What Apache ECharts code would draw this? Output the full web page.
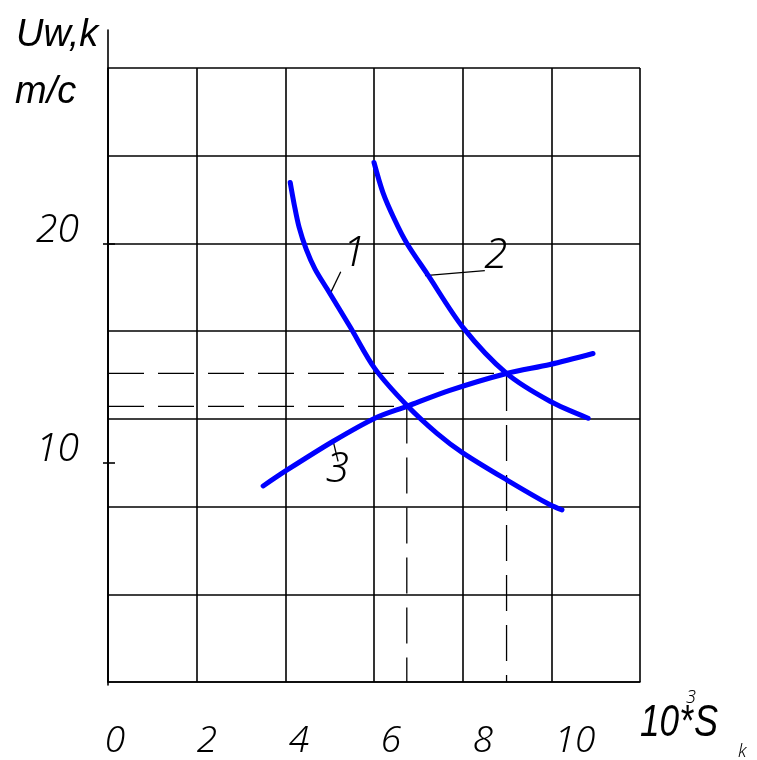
<!DOCTYPE html>
<html><head><meta charset="utf-8">
<script src="https://cdn.jsdelivr.net/npm/echarts@6/dist/echarts.min.js"></script>
<style>html,body{margin:0;padding:0;background:#fff}#c{width:757px;height:760px}</style>
</head><body><div id="c"></div>
<script>
// ---- data ----
const xTickLabels = [0, 2, 4, 6, 8, 10];
const yTickLabels = [10, 20];
const curve1 = [[4.11,22.78],[4.20,21.78],[4.31,20.74],[4.47,19.74],[4.67,18.83],[4.94,17.93],[5.46,16.20],[6.02,14.29],[6.74,12.62],[7.42,11.34],[8.01,10.44],[9.00,9.21],[9.97,8.08],[10.24,7.85]];
const curve2 = [[6.00,23.69],[6.20,22.33],[6.45,21.15],[6.74,20.01],[7.20,18.61],[8.01,16.16],[8.99,14.07],[9.97,12.80],[10.83,12.03]];
const curve3 = [[3.50,8.94],[4.04,9.67],[5.08,10.98],[6.02,12.03],[6.74,12.57],[7.71,13.30],[8.99,14.07],[9.97,14.48],[10.94,14.98]];
const guideA = [[0,12.57],[6.74,12.57],[6.74,0]];
const guideB = [[0,14.07],[8.99,14.07],[8.99,0]];
const curveNames = ['1', '2', '3'];
const namePos = [[5.55,19.51],[8.75,19.42],[5.17,9.67]];
const leader1 = [[5.01,17.70],[5.25,18.71]];
const leader2 = [[7.15,18.53],[8.50,18.76]];
const leader3 = [[5.08,10.97],[5.19,10.06]];

// ---- styles ----
const THIN = '"Noto Sans", "DejaVu Sans", sans-serif';
const SANS = '"Liberation Sans", Arial, sans-serif';
const INK = '#000';
const BLUE = '#0000ff';

const chart = echarts.init(document.getElementById('c'), null, {renderer: 'canvas'});

function curve(data) {
  return {type: 'line', xAxisIndex: 0, yAxisIndex: 0, data: data, smooth: 0.3, showSymbol: false, symbol: 'none',
    lineStyle: {color: BLUE, width: 5, cap: 'round', join: 'round'}, z: 5, silent: true};
}
function guide(data) {
  return {type: 'line', xAxisIndex: 0, yAxisIndex: 0, data: data, showSymbol: false, symbol: 'none',
    lineStyle: {color: INK, width: 1.3, type: [36, 14]}, z: 3, silent: true};
}
function leader(data) {
  return {type: 'line', xAxisIndex: 0, yAxisIndex: 0, data: data, showSymbol: false, symbol: 'none',
    lineStyle: {color: INK, width: 1.3}, z: 4, silent: true};
}

chart.setOption({
  animation: false,
  backgroundColor: '#fff',
  grid: [
    {left: 108, top: 68, right: 117, bottom: 75, containLabel: false},
    {left: 108, top: 30, right: 117, bottom: 75, containLabel: false}
  ],
  xAxis: [
    {type: 'value', gridIndex: 0, min: 0, max: 12, interval: 2,
      axisLine: {show: true, lineStyle: {color: INK, width: 1.6}},
      axisTick: {show: false}, axisLabel: {show: false},
      splitLine: {show: true, lineStyle: {color: INK, width: 1.6}}},
    {type: 'value', gridIndex: 0, position: 'bottom', min: -0.152, max: 11.413,
      axisLine: {show: false}, axisTick: {show: false}, splitLine: {show: false},
      axisLabel: {show: true, customValues: xTickLabels, margin: 40, lineHeight: 38,
        fontFamily: THIN, fontStyle: 'italic', fontWeight: 300, fontSize: 37, color: INK}},
    {type: 'value', gridIndex: 1, min: 0, max: 12, show: false}
  ],
  yAxis: [
    {type: 'value', gridIndex: 0, min: 0, max: 28, interval: 4,
      axisLine: {show: true, lineStyle: {color: INK, width: 1.6}},
      axisTick: {show: false}, axisLabel: {show: false},
      splitLine: {show: true, lineStyle: {color: INK, width: 1.6}}},
    {type: 'value', gridIndex: 0, position: 'left', min: 0, max: 28,
      axisLine: {show: false}, splitLine: {show: false},
      axisTick: {show: true, customValues: yTickLabels, length: 12, lineStyle: {color: INK, width: 1.6}},
      axisLabel: {show: true, customValues: yTickLabels, margin: 29, verticalAlign: 'bottom', lineHeight: 26,
        fontFamily: THIN, fontStyle: 'italic', fontWeight: 300, fontSize: 39, color: INK}},
    {type: 'value', gridIndex: 1, min: 0, max: 1,
      axisLine: {show: true, lineStyle: {color: INK, width: 1.6}},
      axisTick: {show: false}, axisLabel: {show: false}, splitLine: {show: false}}
  ],
  series: [
    guide(guideA), guide(guideB),
    curve(curve1), curve(curve2), curve(curve3),
    leader(leader1), leader(leader2), leader(leader3),
    {type: 'scatter', xAxisIndex: 0, yAxisIndex: 0, symbolSize: 0, silent: true, z: 6,
      itemStyle: {opacity: 1},
      data: namePos.map((p, i) => ({value: p, name: curveNames[i]})),
      label: {show: true, position: 'inside', formatter: p => p.name, fontFamily: THIN,
        fontStyle: 'italic', fontWeight: 300, fontSize: 42, color: INK, opacity: 1}}
  ],
  graphic: [
    {type: 'text', x: 16, y: 35, style: {text: 'Uw,k', fontFamily: SANS, fontStyle: 'italic', fontSize: 38, fill: INK, align: 'left', verticalAlign: 'middle'}},
    {type: 'text', x: 15, y: 92, style: {text: 'm/c', fontFamily: SANS, fontStyle: 'italic', fontSize: 38, fill: INK, align: 'left', verticalAlign: 'middle'}},
    {type: 'text', x: 640, y: 724, scaleX: 0.8, style: {text: '10*', fontFamily: SANS, fontStyle: 'italic', fontSize: 44, fill: INK, align: 'left', verticalAlign: 'middle'}},
    {type: 'text', x: 694, y: 724, scaleX: 0.82, style: {text: 'S', fontFamily: SANS, fontStyle: 'italic', fontSize: 44, fill: INK, align: 'left', verticalAlign: 'middle'}},
    {type: 'text', x: 686, y: 698, style: {text: '3', fontFamily: THIN, fontStyle: 'italic', fontWeight: 300, fontSize: 18, fill: INK, align: 'left', verticalAlign: 'middle'}},
    {type: 'text', x: 738, y: 752, style: {text: 'k', fontFamily: THIN, fontStyle: 'italic', fontWeight: 300, fontSize: 18, fill: INK, align: 'left', verticalAlign: 'middle'}}
  ]
});
</script></body></html>
